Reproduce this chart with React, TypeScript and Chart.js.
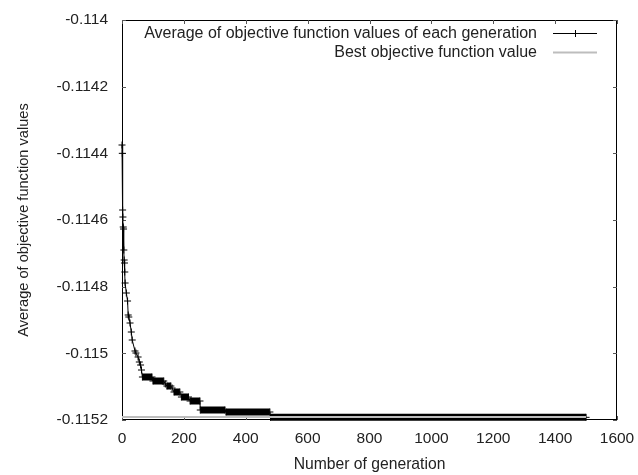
import React, { useEffect, useRef } from 'react';
import { Chart, registerables } from 'chart.js';

Chart.register(...registerables);

// ---- data ----
const generations = [
  0, 1, 2, 3, 4, 5, 6, 7, 8, 9, 10, 14, 18, 20, 22, 26, 30, 33, 42, 45, 52, 56, 60, 63,
  66, 97, 100, 135, 140, 145, 158, 162, 168, 187, 192, 215, 220, 252, 253, 333, 336, 478, 480, 1500,
];
const averageValues = [
  -0.114375, -0.1144, -0.11457, -0.114591, -0.114621, -0.114627, -0.11469, -0.11472, -0.114729,
  -0.114756, -0.114789, -0.114819, -0.114843, -0.114885, -0.114891, -0.114909, -0.114936,
  -0.11496, -0.114993, -0.114999, -0.115011, -0.115026, -0.115035, -0.11505,
  -0.115071, -0.115071, -0.115083, -0.115083, -0.115092, -0.115098, -0.115098, -0.115104,
  -0.115116, -0.115116, -0.115131, -0.115131, -0.115143, -0.115143, -0.11517, -0.11517,
  -0.115176, -0.115176, -0.115192, -0.115192,
];
const bestGenerations = [0, 1500];
const bestValues = [-0.115191, -0.115191];

const xTickValues = [0, 200, 400, 600, 800, 1000, 1200, 1400, 1600];
const yTickValues = [-0.1152, -0.115, -0.1148, -0.1146, -0.1144, -0.1142, -0.114];

const seriesLabels = [
  'Average of objective function values of each generation',
  'Best objective function value',
];
const xTitle = 'Number of generation';
const yTitle = 'Average of objective function values';

const FONT = "'Liberation Sans', Arial, Helvetica, sans-serif";
const TEXT = '#222222';
const GRAY = '#bdbdbd';

const framePlugin = {
  id: 'frameTicks',
  beforeDatasetsDraw(chart: any) {
    const { ctx, chartArea: a, scales } = chart;
    ctx.save();
    ctx.strokeStyle = '#000';
    ctx.lineWidth = 1;
    ctx.strokeRect(a.left + 0.5, a.top + 0.5, a.right - a.left - 1, a.bottom - a.top - 1);
    ctx.strokeStyle = '#555';
    ctx.beginPath();
    const len = 4;
    scales.x.ticks.forEach((t: any) => {
      const px = Math.round(scales.x.getPixelForValue(t.value)) + 0.5;
      ctx.moveTo(px, a.bottom);
      ctx.lineTo(px, a.bottom - len);
      ctx.moveTo(px, a.top);
      ctx.lineTo(px, a.top + len);
    });
    scales.y.ticks.forEach((t: any) => {
      const py = Math.round(scales.y.getPixelForValue(t.value)) + 0.5;
      ctx.moveTo(a.left, py);
      ctx.lineTo(a.left + len, py);
      ctx.moveTo(a.right, py);
      ctx.lineTo(a.right - len, py);
    });
    ctx.stroke();
    ctx.restore();
  },
};

const legendPlugin = {
  id: 'insideLegend',
  afterDraw(chart: any) {
    const { ctx, chartArea: a } = chart;
    ctx.save();
    ctx.font = `16px ${FONT}`;
    ctx.textAlign = 'right';
    ctx.textBaseline = 'middle';
    chart.data.datasets.forEach((ds: any, i: number) => {
      const y = Math.round(a.top + 13 + i * 19) + 0.5;
      ctx.fillStyle = TEXT;
      ctx.fillText(ds.label, a.right - 80, y);
      const x0 = a.right - 64;
      const x1 = a.right - 20;
      ctx.strokeStyle = ds.borderColor;
      ctx.lineWidth = i === 0 ? 1 : 2;
      ctx.beginPath();
      ctx.moveTo(x0, y);
      ctx.lineTo(x1, y);
      if (i === 0) {
        const xm = Math.round((x0 + x1) / 2) + 0.5;
        ctx.moveTo(xm, y - 3.5);
        ctx.lineTo(xm, y + 3.5);
      }
      ctx.stroke();
    });
    ctx.restore();
  },
};

export default function App() {
  const canvasRef = useRef<HTMLCanvasElement | null>(null);

  useEffect(() => {
    if (!canvasRef.current) return;
    const chart = new Chart(canvasRef.current, {
      type: 'line',
      data: {
        datasets: [
          {
            label: seriesLabels[0],
            data: generations.map((g, i) => ({ x: g, y: averageValues[i] })),
            borderColor: '#000000',
            backgroundColor: '#000000',
            borderWidth: 1,
            pointStyle: 'cross',
            pointRadius: 3.5,
            pointBorderWidth: 1,
            pointBorderColor: '#000000',
            order: 2,
            clip: false,
            segment: {
              borderWidth: (c: any) =>
                c.p0.parsed.y === c.p1.parsed.y && c.p1.parsed.x - c.p0.parsed.x >= 10 ? 7 : 1,
            },
          } as any,
          {
            label: seriesLabels[1],
            data: bestGenerations.map((g, i) => ({ x: g, y: bestValues[i] })),
            borderColor: GRAY,
            backgroundColor: GRAY,
            borderWidth: 2,
            pointRadius: 0,
            order: 1,
            clip: false,
          } as any,
        ],
      },
      options: {
        animation: false,
        responsive: true,
        maintainAspectRatio: false,
        layout: { padding: { top: 20, right: 21, bottom: 0, left: 0 } },
        plugins: {
          legend: { display: false },
          tooltip: { enabled: false },
        },
        scales: {
          x: {
            type: 'linear',
            min: 0,
            max: 1600,
            grid: { display: false, drawTicks: false },
            border: { display: false },
            afterBuildTicks: (s: any) => {
              s.ticks = xTickValues.map((v) => ({ value: v }));
            },
            afterFit: (s: any) => {
              s.height = 55;
              s.paddingLeft = 0;
              s.paddingRight = 0;
            },
            ticks: {
              padding: 9,
              color: TEXT,
              maxRotation: 0,
              autoSkip: false,
              font: { family: FONT, size: 15.5 },
              callback: (v: any) => String(v),
            },
            title: {
              display: true,
              text: xTitle,
              color: TEXT,
              font: { family: FONT, size: 15.7 },
              padding: { top: 0, bottom: 1 },
            },
          },
          y: {
            type: 'linear',
            min: -0.1152,
            max: -0.114,
            grid: { display: false, drawTicks: false },
            border: { display: false },
            afterBuildTicks: (s: any) => {
              s.ticks = yTickValues.map((v) => ({ value: v }));
            },
            afterFit: (s: any) => {
              s.width = 122;
              s.paddingTop = 0;
              s.paddingBottom = 0;
            },
            ticks: {
              padding: 14,
              color: TEXT,
              autoSkip: false,
              font: { family: FONT, size: 15.5 },
              callback: (v: any) => String(v),
            },
            title: {
              display: true,
              text: yTitle,
              color: TEXT,
              font: { family: FONT, size: 14.6 },
              padding: { top: 15, bottom: 0 },
            },
          },
        },
      },
      plugins: [framePlugin, legendPlugin],
    });
    return () => chart.destroy();
  }, []);

  return (
    <div style={{ position: 'absolute', left: 0, top: 0, width: 638, height: 475, background: '#fff' }}>
      <canvas ref={canvasRef} />
    </div>
  );
}
